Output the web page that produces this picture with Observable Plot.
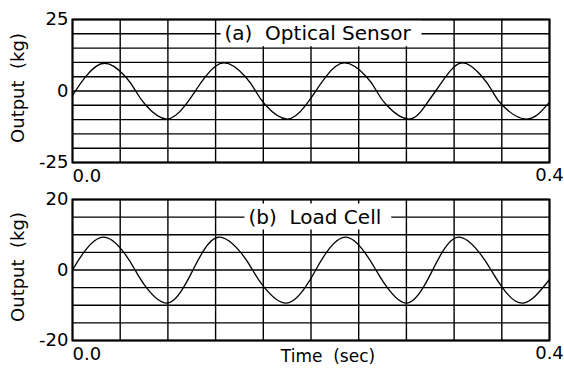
<!DOCTYPE html>
<html>
<head>
<meta charset="utf-8">
<script src="https://cdn.jsdelivr.net/npm/d3@7"></script>
<script src="https://cdn.jsdelivr.net/npm/@observablehq/plot@0.6"></script>
<style>
  html, body { margin: 0; padding: 0; background: #fff; }
  svg { display: block; }
  svg text { white-space: pre; }
</style>
</head>
<body>
<div id="chart"></div>
<script>
// ---- data ----
const timeGrid = [0, 0.04, 0.08, 0.12, 0.16, 0.2, 0.24, 0.28, 0.32, 0.36, 0.4];
const gridA = [-25, -20, -15, -10, -5, 0, 5, 10, 15, 20, 25];
const gridB = [-20, -15, -10, -5, 0, 5, 10, 15, 20];
const yTicksA = [-25, 0, 25];
const yTicksB = [-20, 0, 20];
const xTickFirst = [0];
const xTickLast = [0.4];
const titleA = "(a)  Optical Sensor";
const titleB = "(b)  Load Cell";
const yLabel = "Output  (kg)";
const xLabel = "Time  (sec)";

// (a) Optical Sensor
const timesA = [0.000, 0.0025, 0.011, 0.027, 0.0445, 0.053, 0.0615, 0.079, 0.0945, 0.103,
  0.1115, 0.127, 0.145, 0.1535, 0.162, 0.180, 0.1955, 0.204, 0.2125, 0.228,
  0.2465, 0.255, 0.2635, 0.282, 0.296, 0.3045, 0.313, 0.327, 0.3435, 0.352,
  0.3605, 0.381, 0.400];
const valuesA = [-1.5, 0, 5, 9.7, 5, 0, -5, -9.8, -5, 0,
  5, 9.8, 5, 0, -5, -9.8, -5, 0, 5, 9.8,
  5, 0, -5, -9.8, -5, 0, 5, 9.8, 5, 0,
  -5, -9.8, -3.9];

// (b) Load Cell
const timesB = [0.000, 0.0095, 0.026, 0.043, 0.0525, 0.062, 0.079, 0.093, 0.101, 0.109,
  0.123, 0.141, 0.151, 0.161, 0.179, 0.195, 0.204, 0.213, 0.229, 0.245,
  0.2545, 0.264, 0.280, 0.294, 0.302, 0.310, 0.324, 0.341, 0.351, 0.3605,
  0.378, 0.400];
const valuesB = [0, 5, 9.3, 5, 0, -5, -9.4, -5, 0, 5,
  9.3, 5, 0, -5, -9.4, -5, 0, 5, 9.3, 5,
  0, -5, -9.4, -5, 0, 5, 9.3, 5, 0, -5,
  -9.4, -2.7];

const FONT = "DejaVu Sans";

function panel({height, marginTop, marginBottom, yDomain, yGrid, yTicks, times, values, title, titleX, titleY, withXLabel}) {
  const marks = [
    Plot.ruleX(timeGrid, {x: d => d, stroke: "black", strokeWidth: 1.4}),
    Plot.ruleY(yGrid, {y: d => d, stroke: "black", strokeWidth: 1.4}),
    Plot.line(times, {x: times, y: values, curve: "natural", stroke: "black", strokeWidth: 1.3}),
    Plot.text([title], {x: titleX, y: titleY, text: d => d, textAnchor: "start", fontSize: 20, fill: "black"}),
    Plot.axisY({ticks: yTicks, tickSize: 0, tickPadding: 4, tickFormat: d => String(d), label: null, fontSize: 18}),
    Plot.axisX({ticks: xTickFirst, tickSize: 0, tickPadding: 7, tickFormat: d => d.toFixed(1), textAnchor: "start", label: null, fontSize: 18}),
    Plot.axisX({ticks: xTickLast, tickSize: 0, tickPadding: 6, tickFormat: d => d.toFixed(1), label: null, fontSize: 18}),
    Plot.text([yLabel], {frameAnchor: "left", textAnchor: "middle", rotate: -90, dx: -54, dy: -3, text: d => d, fontSize: 18, fill: "black"}),
  ];
  if (withXLabel) {
    marks.push(Plot.text([xLabel], {frameAnchor: "bottom", textAnchor: "middle", dx: 17, dy: 21, text: d => d, fontSize: 17, fill: "black"}));
  }
  marks.push(Plot.frame({stroke: "black", strokeWidth: 2}));
  return Plot.plot({
    width: 564,
    height,
    marginLeft: 72,
    marginRight: 15,
    marginTop,
    marginBottom,
    style: {fontFamily: FONT, fontSize: "18px", color: "black", background: "white"},
    x: {domain: [0, 0.4], axis: null},
    y: {domain: yDomain, axis: null},
    marks
  });
}

function boxTitle(svg, str) {
  const t = [...svg.querySelectorAll("text")].find(e => e.textContent.includes(str));
  if (!t) return;
  const b = t.getBBox();
  const r = document.createElementNS("http://www.w3.org/2000/svg", "rect");
  r.setAttribute("x", b.x - 4);
  r.setAttribute("y", b.y - 1);
  r.setAttribute("width", b.width + 14);
  r.setAttribute("height", b.height + 2);
  r.setAttribute("fill", "white");
  const tr = t.getAttribute("transform");
  if (tr) r.setAttribute("transform", tr);
  t.parentNode.insertBefore(r, t);
}

const host = document.getElementById("chart");
const panelA = panel({
  height: 185, marginTop: 19, marginBottom: 23,
  yDomain: [-25, 25], yGrid: gridA, yTicks: yTicksA,
  times: timesA, values: valuesA,
  title: titleA, titleX: 0.1275, titleY: 20, withXLabel: false
});
const panelB = panel({
  height: 193, marginTop: 14, marginBottom: 38,
  yDomain: [-20, 20], yGrid: gridB, yTicks: yTicksB,
  times: timesB, values: valuesB,
  title: titleB, titleX: 0.1476, titleY: 15, withXLabel: true
});
host.appendChild(panelA);
host.appendChild(panelB);
boxTitle(panelA, "Optical");
boxTitle(panelB, "Load");
</script>
</body>
</html>
